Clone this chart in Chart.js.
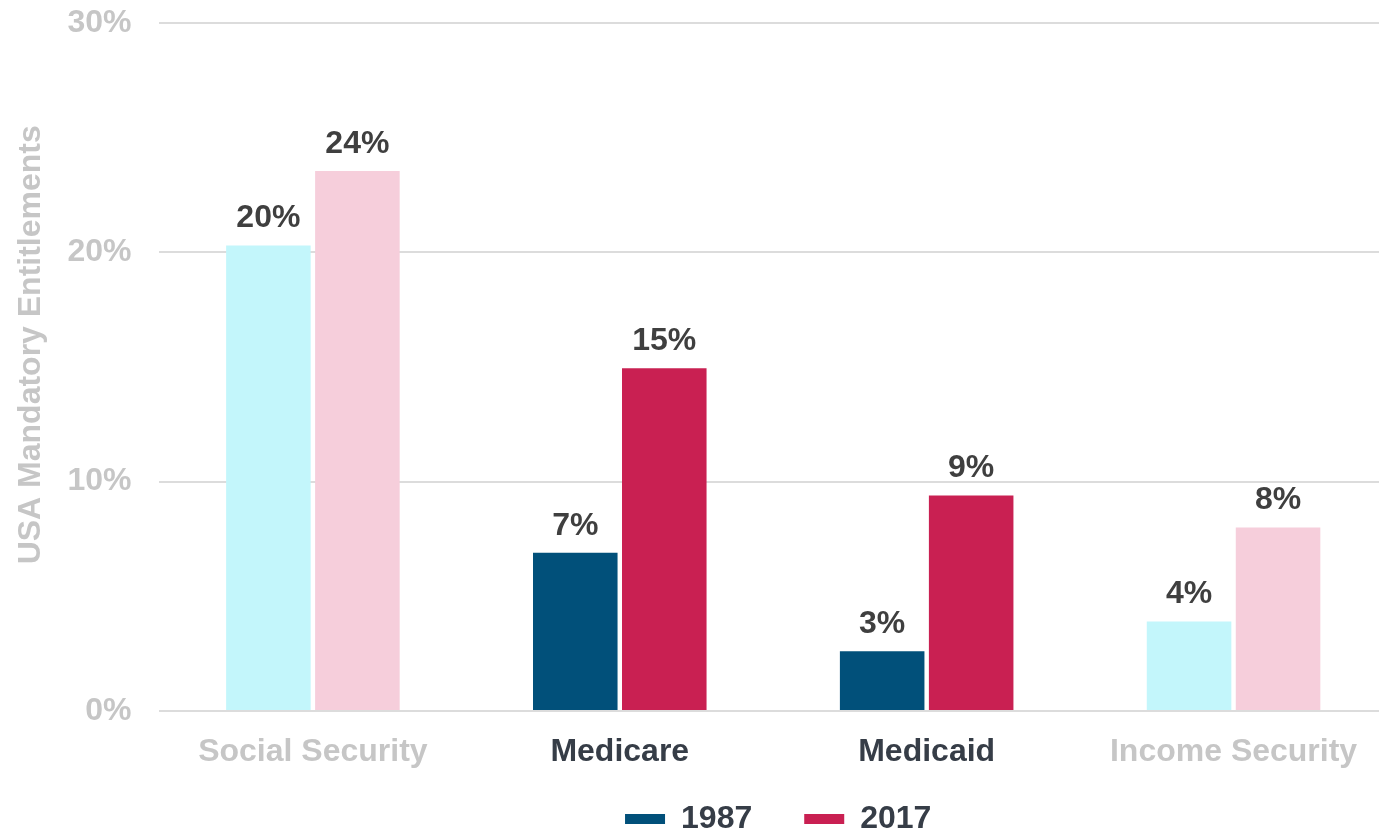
<!DOCTYPE html>
<html>
<head>
<meta charset="utf-8">
<script src="https://cdn.jsdelivr.net/npm/chart.js@4.4.1/dist/chart.umd.min.js"></script>
<style>
  html, body { margin: 0; padding: 0; background: #ffffff; overflow: hidden; }
  #wrap { width: 1379px; height: 830px; position: relative; overflow: hidden; }
  #c { display: block; }
</style>
</head>
<body>
<div id="wrap"><canvas id="c" width="1387" height="830"></canvas></div>
<script>
const categories = ['Social Security', 'Medicare', 'Medicaid', 'Income Security'];
const seriesNames = ['1987', '2017'];
const values1987 = [20.3, 6.9, 2.6, 3.9];
const values2017 = [23.55, 14.95, 9.4, 8.0];
const colors1987 = ['#c3f6fb', '#01507a', '#01507a', '#c3f6fb'];
const colors2017 = ['#f6cedb', '#c92052', '#c92052', '#f6cedb'];
const legendColors = ['#01507a', '#c92052'];
const categoryLabelColors = ['#c6c6c6', '#363d47', '#363d47', '#c6c6c6'];
const yTicks = [0, 10, 20, 30];
const yTitle = 'USA Mandatory Entitlements';

const FONT = "'Liberation Sans', Arial, Helvetica, sans-serif";
const FS = 32;

const valueLabels = {
  id: 'valueLabels',
  afterLayout(chart) {
    // let the category labels extend below their (compact) layout box
    const xs = chart.scales.x;
    if (xs) { xs.bottom = chart.height; }
    const lg = chart.legend;
    if (lg) { lg.left += 5; lg.right += 5; }
  },
  afterDatasetsDraw(chart) {
    const ctx = chart.ctx;
    ctx.save();
    ctx.font = 'bold ' + FS + 'px ' + FONT;
    ctx.fillStyle = '#3f3f3f';
    ctx.textAlign = 'center';
    ctx.textBaseline = 'bottom';
    chart.data.datasets.forEach((ds, di) => {
      const meta = chart.getDatasetMeta(di);
      meta.data.forEach((bar, i) => {
        ctx.fillText(Math.round(ds.data[i]) + '%', bar.x, bar.y - 11);
      });
    });
    ctx.restore();
  }
};

new Chart(document.getElementById('c'), {
  type: 'bar',
  data: {
    labels: categories,
    datasets: [
      { label: seriesNames[0], data: values1987, backgroundColor: colors1987, borderWidth: 0 },
      { label: seriesNames[1], data: values2017, backgroundColor: colors2017, borderWidth: 0 }
    ]
  },
  options: {
    responsive: false,
    animation: false,
    devicePixelRatio: 1,
    categoryPercentage: 0.58,
    barPercentage: 0.95,
    layout: { padding: { top: 0, right: 0, left: 12, bottom: -15 } },
    plugins: {
      tooltip: { enabled: false },
      legend: {
        position: 'bottom',
        fullSize: false,
        labels: {
          boxWidth: 40,
          boxHeight: 10,
          padding: 52,
          color: '#363d47',
          font: { family: FONT, size: FS, weight: 'bold' },
          generateLabels(chart) {
            return chart.data.datasets.map((ds, i) => ({
              text: ds.label,
              fillStyle: legendColors[i],
              strokeStyle: legendColors[i],
              lineWidth: 0,
              hidden: false,
              datasetIndex: i,
              fontColor: '#363d47'
            }));
          }
        }
      }
    },
    scales: {
      x: {
        grid: { display: false, drawTicks: false },
        border: { display: false },
        afterFit(scale) { scale.height = 40; },
        ticks: {
          padding: 22,
          color: categoryLabelColors,
          font: { family: FONT, size: FS, weight: 'bold' }
        }
      },
      y: {
        min: 0,
        max: 30,
        afterBuildTicks(scale) { scale.ticks = yTicks.map(v => ({ value: v })); },
        afterFit(scale) { scale.width -= 11; scale.paddingTop = 23; scale.paddingBottom = 20; },
        grid: { color: '#dcdcdc', lineWidth: 2, drawTicks: false },
        border: { display: false },
        ticks: {
          padding: 28,
          color: '#c6c6c6',
          font: { family: FONT, size: FS, weight: 'bold' },
          callback: v => v + '%'
        },
        title: {
          display: true,
          text: '\u00A0\u00A0\u00A0\u00A0\u00A0' + yTitle,
          color: '#c6c6c6',
          font: { family: FONT, size: FS, weight: 'bold' },
          padding: { top: 0, bottom: 0 }
        }
      }
    }
  },
  plugins: [valueLabels]
});
</script>
</body>
</html>
